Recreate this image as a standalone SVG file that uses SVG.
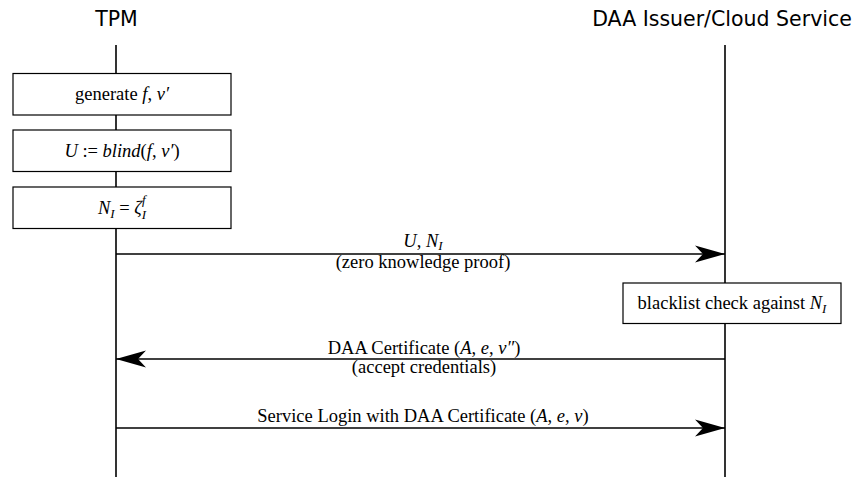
<svg xmlns="http://www.w3.org/2000/svg" width="858" height="477" viewBox="0 0 858 477">
<style>
.life{stroke:#000;stroke-width:1.6;fill:none}
.box{fill:#fff;stroke:#000;stroke-width:1.2}
.msg{stroke:#000;stroke-width:1.6;fill:none}
.t{font-family:"Liberation Serif","Times New Roman",serif;font-size:18.5px;fill:#000}
.h{font-family:"DejaVu Sans",sans-serif;font-size:20.5px;fill:#000}
.i{font-style:italic}
.s{font-style:italic;font-size:13px}
</style>
<defs>
<marker id="ah" markerUnits="userSpaceOnUse" markerWidth="32" markerHeight="20" refX="30" refY="10" orient="auto">
<path d="M30,10 L0,1.5 L8,10 L0,18.5 Z" fill="#000"/>
</marker>
</defs>
<rect width="858" height="477" fill="#fff"/>
<g id="tpm">
<text class="h" x="116.5" y="26" text-anchor="middle">TPM</text>
<line class="life" x1="116" y1="45" x2="116" y2="477"/>
</g>
<g id="issuer">
<text class="h" x="722" y="26" text-anchor="middle">DAA Issuer/Cloud Service</text>
<line class="life" x1="725" y1="45" x2="725" y2="477"/>
</g>
<g id="gen">
<rect class="box" x="13" y="73.5" width="218" height="41.5"/>
<text class="t" x="122" y="100" text-anchor="middle">generate <tspan class="i">f</tspan>, <tspan class="i">ν′</tspan></text>
</g>
<g id="blind">
<rect class="box" x="13" y="130" width="218" height="41.5"/>
<text class="t" x="122" y="156.5" text-anchor="middle"><tspan class="i">U</tspan> := <tspan class="i">blind</tspan>(<tspan class="i">f</tspan>, <tspan class="i">ν′</tspan>)</text>
</g>
<g id="ni">
<rect class="box" x="13" y="187" width="218" height="41.5"/>
<text class="t" x="122" y="213.5" text-anchor="middle"><tspan class="i">N</tspan><tspan class="s" dy="4">I</tspan><tspan dy="-4"> = </tspan><tspan class="i">ζ</tspan><tspan class="s" dy="5">I</tspan><tspan class="s" dx="-4" dy="-15">f</tspan></text>
</g>
<g id="blacklist">
<rect class="box" x="623" y="283" width="218" height="40.5"/>
<text class="t" x="732" y="309" text-anchor="middle">blacklist check against <tspan class="i">N</tspan><tspan class="s" dy="4">I</tspan></text>
</g>
<g id="connectors">
<line class="msg" x1="116" y1="254" x2="725" y2="254" marker-end="url(#ah)"/>
<text class="t" x="423" y="247" text-anchor="middle"><tspan class="i">U</tspan>, <tspan class="i">N</tspan><tspan class="s" dy="3">I</tspan></text>
<text class="t" x="423" y="268" text-anchor="middle">(zero knowledge proof)</text>
<line class="msg" x1="725" y1="359" x2="116" y2="359" marker-end="url(#ah)"/>
<text class="t" x="424" y="354" text-anchor="middle">DAA Certificate (<tspan class="i">A</tspan>, <tspan class="i">e</tspan>, <tspan class="i">ν″</tspan>)</text>
<text class="t" x="424" y="373" text-anchor="middle">(accept credentials)</text>
<line class="msg" x1="116" y1="428" x2="725" y2="428" marker-end="url(#ah)"/>
<text class="t" x="423" y="421.5" text-anchor="middle">Service Login with DAA Certificate (<tspan class="i">A</tspan>, <tspan class="i">e</tspan>, <tspan class="i">ν</tspan>)</text>
</g>
</svg>
